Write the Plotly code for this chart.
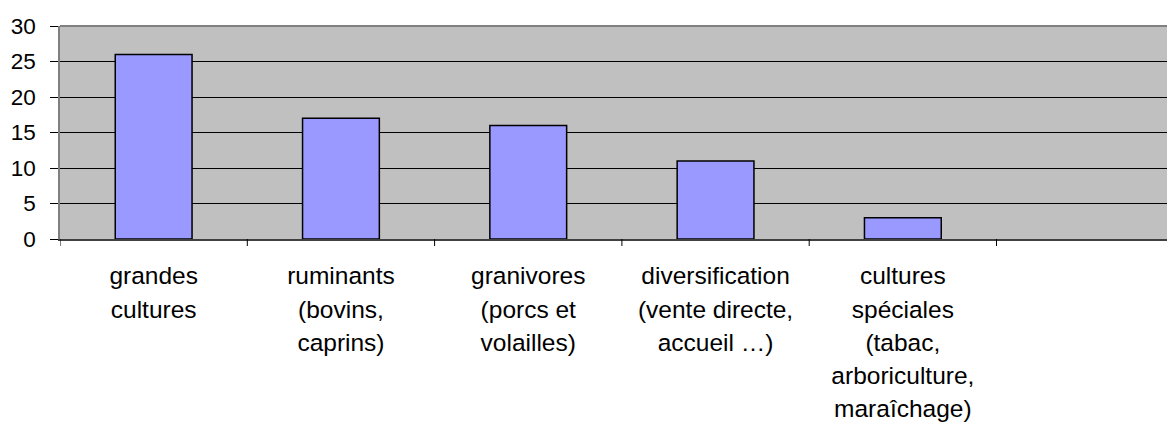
import plotly.graph_objects as go

categories = [
    "grandes<br>cultures",
    "ruminants<br>(bovins,<br>caprins)",
    "granivores<br>(porcs et<br>volailles)",
    "diversification<br>(vente directe,<br>accueil …)",
    "cultures<br>spéciales<br>(tabac,<br>arboriculture,<br>maraîchage)",
]
values = [26, 17, 16, 11, 3]
y_ticks = [0, 5, 10, 15, 20, 25, 30]

slots = list(range(len(categories) + 1))

def wrap(label):
    return "<br>".join(
        f'<span style="font-size:24.5px">{part}</span>' for part in label.split("<br>")
    )

fig = go.Figure()
fig.add_trace(go.Bar(
    x=list(range(len(categories))),
    y=values,
    width=0.41,
    marker=dict(color="#9999FF", line=dict(color="#000000", width=1.5)),
    showlegend=False,
))

fig.update_layout(
    width=1167, height=417,
    margin=dict(l=52, r=0, t=18, b=186, autoexpand=False),
    paper_bgcolor="white",
    plot_bgcolor="#C0C0C0",
    font=dict(family="Liberation Sans, Arial, sans-serif", color="#000000"),
)
fig.update_xaxes(
    range=[-0.5, 5.453],
    tickmode="array",
    tickvals=list(range(len(categories))),
    ticktext=[wrap(c) for c in categories],
    tickfont=dict(size=25.5),
    ticks="",
    showgrid=False,
    showline=True, linecolor="#404040", linewidth=1.5,
    zeroline=False,
    automargin=False,
    ticklabelstandoff=13,
)
fig.update_yaxes(
    range=[0, 30],
    tickvals=y_ticks,
    tickfont=dict(size=22.5),
    ticks="outside", ticklen=8, tickcolor="#000000", tickwidth=1,
    showgrid=True, gridcolor="#000000", gridwidth=1,
    showline=True, linecolor="#808080", linewidth=1.5,
    zeroline=False,
    automargin=False,
    ticklabelstandoff=10,
)
# category boundary tick marks, placed with the x axis scale
for b in [s - 0.5 for s in slots]:
    fig.add_shape(type="line", xref="x", yref="y domain", x0=b, x1=b,
                  y0=0, y1=-7 / 213, line=dict(color="#000000", width=1))
# top border of plot area
fig.add_shape(type="line", xref="paper", yref="paper", x0=0, x1=1, y0=1, y1=1,
              line=dict(color="#808080", width=2))

fig.write_html("out.html")
